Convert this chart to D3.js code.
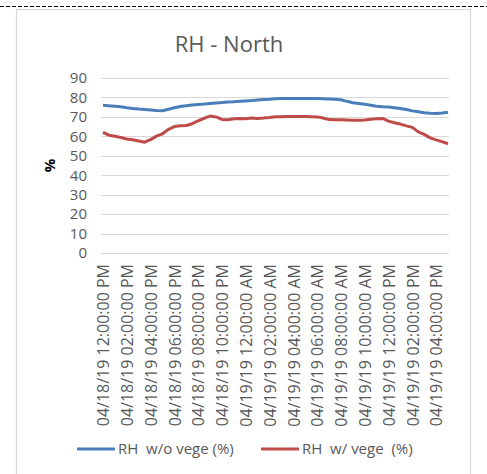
<!DOCTYPE html>
<html>
<head>
<meta charset="utf-8">
<script src="https://cdn.jsdelivr.net/npm/d3@7"></script>
<style>
  body { margin: 0; background: #fff; }
  text { font-family: "Open Sans", sans-serif; }
</style>
</head>
<body>
<svg id="chart" width="487" height="474"></svg>
<script>
// hours since 04/18/19 12:00 PM
const hours = d3.range(0, 29.01, 0.5);

const rhNoVege = [
  76.0, 75.7, 75.5, 75.2, 74.7, 74.3, 74.0, 73.8, 73.6, 73.3,
  73.2, 73.9, 74.7, 75.3, 75.7, 76.1, 76.4, 76.6, 76.9, 77.2,
  77.4, 77.7, 77.8, 78.0, 78.2, 78.4, 78.7, 79.0, 79.1, 79.3,
  79.4, 79.5, 79.5, 79.5, 79.5, 79.5, 79.4, 79.3, 79.2, 79.1,
  78.8, 78.0, 77.3, 76.9, 76.5, 76.0, 75.5, 75.2, 75.1, 74.7,
  74.3, 73.8, 73.1, 72.6, 72.1, 71.9, 71.8, 72.0, 72.4
];

const rhVege = [
  62.0, 60.6, 60.0, 59.4, 58.6, 58.2, 57.6, 57.0, 58.3, 60.1,
  61.3, 63.6, 65.0, 65.4, 65.6, 66.5, 68.0, 69.3, 70.4, 70.0,
  68.7, 68.5, 69.0, 69.2, 69.1, 69.4, 69.2, 69.4, 69.7, 70.1,
  70.1, 70.2, 70.2, 70.2, 70.2, 70.1, 70.0, 69.4, 68.6, 68.5,
  68.5, 68.4, 68.3, 68.3, 68.4, 68.8, 69.0, 69.2, 67.8, 67.0,
  66.3, 65.4, 64.6, 62.3, 61.0, 59.2, 58.2, 57.3, 56.2
];

const tickHours = d3.range(0, 29, 2);
const tickLabels = [
  "04/18/19 12:00:00 PM", "04/18/19 02:00:00 PM", "04/18/19 04:00:00 PM",
  "04/18/19 06:00:00 PM", "04/18/19 08:00:00 PM", "04/18/19 10:00:00 PM",
  "04/19/19 12:00:00 AM", "04/19/19 02:00:00 AM", "04/19/19 04:00:00 AM",
  "04/19/19 06:00:00 AM", "04/19/19 08:00:00 AM", "04/19/19 10:00:00 AM",
  "04/19/19 12:00:00 PM", "04/19/19 02:00:00 PM", "04/19/19 04:00:00 PM"
];
const yTicks = d3.range(0, 91, 10);

const series = [
  { name: "RH  w/o vege (%)", values: rhNoVege, color: "#4a7ebb" },
  { name: "RH  w/ vege  (%)", values: rhVege, color: "#be4b48" }
];

const svg = d3.select("#chart");
const grey = "#595959";

// dashed rule along the top of the page
svg.append("line")
  .attr("x1", 0).attr("x2", 487)
  .attr("y1", 6.5).attr("y2", 6.5)
  .attr("stroke", "#000")
  .attr("stroke-dasharray", "4,2");

// chart frame
svg.append("rect")
  .attr("x", 16.5).attr("y", 9.5)
  .attr("width", 454).attr("height", 480)
  .attr("fill", "none")
  .attr("stroke", "#d9d9d9")
  .attr("stroke-width", 1.25);

const xScale = d3.scaleLinear().domain([0, 29]).range([103, 448]);
const yScale = d3.scaleLinear().domain([0, 90]).range([253, 78]);

// gridlines
svg.append("g")
  .selectAll("line")
  .data(yTicks)
  .join("line")
  .attr("x1", 101).attr("x2", 449)
  .attr("y1", (d) => Math.round(yScale(d)) + 0.5)
  .attr("y2", (d) => Math.round(yScale(d)) + 0.5)
  .attr("stroke", "#d9d9d9");

// y axis labels
const yAxis = d3.axisLeft(yScale).tickValues(yTicks).tickSize(0).tickPadding(0);
svg.append("g")
  .attr("transform", "translate(87,0)")
  .call(yAxis)
  .call((g) => g.select(".domain").remove())
  .selectAll("text")
  .attr("font-family", "Open Sans")
  .attr("font-size", 15)
  .attr("fill", grey);

// x axis labels, rotated
const xAxis = d3.axisBottom(xScale)
  .tickValues(tickHours)
  .tickFormat((d, i) => tickLabels[i])
  .tickSize(0);
svg.append("g")
  .attr("transform", "translate(0,264)")
  .call(xAxis)
  .call((g) => g.select(".domain").remove())
  .selectAll("text")
  .attr("font-family", "Open Sans")
  .attr("font-size", 16)
  .attr("fill", grey)
  .attr("text-anchor", "end")
  .attr("transform", "rotate(-90)")
  .attr("x", 0)
  .attr("y", 0)
  .attr("dy", "0.36em");

// lines
const line = d3.line()
  .x((d, i) => xScale(hours[i]))
  .y((d) => yScale(d));

svg.append("g")
  .selectAll("path")
  .data(series)
  .join("path")
  .attr("fill", "none")
  .attr("stroke", (d) => d.color)
  .attr("stroke-width", 3)
  .attr("stroke-linejoin", "round")
  .attr("d", (d) => line(d.values));

// title
svg.append("text")
  .attr("x", 229).attr("y", 52)
  .attr("text-anchor", "middle")
  .attr("font-size", 22)
  .attr("fill", grey)
  .text("RH - North");

// y label
svg.append("text")
  .attr("transform", "translate(55,165.5) rotate(-90)")
  .attr("text-anchor", "middle")
  .attr("font-size", 15)
  .attr("font-weight", "bold")
  .attr("fill", "#000")
  .text("%");

// legend
const legend = svg.append("g")
  .selectAll("g")
  .data(series)
  .join("g")
  .attr("transform", (d, i) => "translate(" + (77 + i * 184) + ",449)");

legend.append("line")
  .attr("x1", 0).attr("x2", 38)
  .attr("stroke", (d) => d.color)
  .attr("stroke-width", 3);

legend.append("text")
  .attr("x", 41)
  .attr("dy", "0.36em")
  .attr("font-size", 15)
  .attr("fill", grey)
  .style("white-space", "pre")
  .text((d) => d.name);
</script>
</body>
</html>
